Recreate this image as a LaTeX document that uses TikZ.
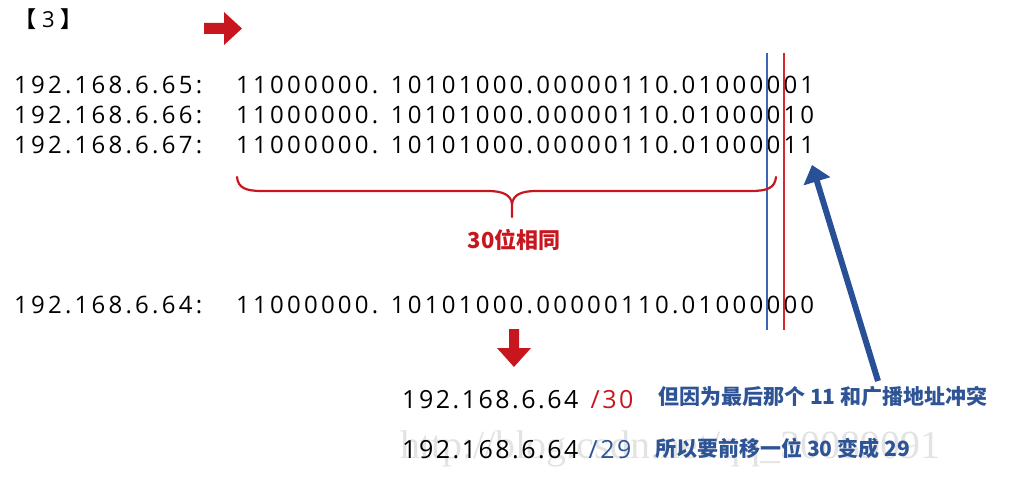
\documentclass[tikz,border=0pt]{standalone}
\usepackage{fontspec}
\setmainfont{Open Sans}
\newfontfamily\cjk{Noto Sans CJK SC}
\newfontfamily\wmfont{Liberation Serif}
\usepackage{xcolor}
\usetikzlibrary{arrows.meta, positioning}
\definecolor{ipred}{RGB}{200,22,30}
\definecolor{linered}{RGB}{215,40,45}
\definecolor{ipblue}{RGB}{46,84,150}
\definecolor{lineblue}{RGB}{60,100,180}
\definecolor{arrowblue}{RGB}{40,80,150}

\begin{document}
\begin{tikzpicture}[
  x = 1pt, y = -1pt,
  iptext/.style  = {anchor=base west, inner sep=0pt,
                    font=\fontsize{24}{28}\selectfont\addfontfeature{LetterSpace=13.5}},
  ipbig/.style   = {anchor=base west, inner sep=0pt,
                    font=\fontsize{25}{29}\selectfont\addfontfeature{LetterSpace=10}},
  note/.style    = {anchor=base west, inner sep=0pt, text=ipblue,
                    font=\fontsize{21}{25}\cjk\bfseries},
  blockarrow/.style = {fill=ipred},
  bracered/.style   = {draw=ipred, line width=2.2pt, line cap=round},
  cutline/.style    = {line width=2pt},
  bluearrow/.style  = {-{Triangle[length=17pt, width=27pt]}, line width=6pt,
                       arrowblue},
]
  \useasboundingbox (0,0) rectangle (1024,476);
  \node[anchor=base west, inner sep=0pt, font=\fontsize{22}{26}\selectfont]
    (title) at (14,28) {{\cjk\bfseries 【}\hspace{6pt}3\hspace{6pt}{\cjk\bfseries 】}};
  \fill[blockarrow] (204,23) -- (224,23) -- (224,12) -- (242,28.5) -- (224,45)
    -- (224,34) -- (204,34) -- cycle;

  \node[iptext] (ip65) at (14,94)  {192.168.6.65:};
  \node[iptext] (ip66) at (14,123) {192.168.6.66:};
  \node[iptext] (ip67) at (14,153) {192.168.6.67:};
  \node[iptext] (bin65) at (236,94)  {11000000. 10101000.00000110.01000001};
  \node[iptext] (bin66) at (236,123) {11000000. 10101000.00000110.01000010};
  \node[iptext] (bin67) at (236,153) {11000000. 10101000.00000110.01000011};
  \node[iptext] (ip64)  at (14,313)  {192.168.6.64:};
  \node[iptext] (bin64) at (236,313) {11000000. 10101000.00000110.01000000};

  \coordinate (blueTop) at (767,53);
  \coordinate (blueBot) at (767,330);
  \coordinate (redTop)  at (784,53);
  \coordinate (redBot)  at (784,330);
  \draw[cutline, lineblue] (blueTop) -- (blueBot);
  \draw[cutline, linered]  (redTop) -- (redBot);

  \draw[bracered] (237,177) .. controls (238,188) and (246,191) .. (262,191)
    -- (488,191) .. controls (503,191) and (511,195) .. (512,204) -- (512,217);
  \draw[bracered] (776,177) .. controls (775,188) and (767,191) .. (751,191)
    -- (536,191) .. controls (521,191) and (513,195) .. (512,204);
  \node[anchor=base, inner sep=0pt, text=ipred, font=\fontsize{22}{26}\cjk\bfseries]
    (same) at (514,248) {30位相同};

  \fill[blockarrow] (509,329) -- (519,329) -- (519,348) -- (531,348) -- (514,367)
    -- (497,348) -- (509,348) -- cycle;

  \node[anchor=base west, inner sep=0pt, text=black!11,
        font=\fontsize{40}{44}\wmfont] (mark) at (400,458)
    {http://blog.csdn.net/qq\_30089091};

  \node[ipbig] (net30) at (402,408) {192.168.6.64};
  \node[ipbig, text=ipred, base right=12pt of net30] (mask30) {/30};
  \node[ipbig] (net29) at (402,458) {192.168.6.64};
  \node[ipbig, text=ipblue, base right=10pt of net29] (mask29) {/29};
  \node[note] (why) at (658,404) {但因为最后那个 11 和广播地址冲突};
  \node[note] (fix) at (655,456) {所以要前移一位 30 变成 29};

  \coordinate (arrowTail) at (878,381);
  \coordinate (arrowTip)  at (812,165);
  \draw[bluearrow] (arrowTail) -- (arrowTip);
\end{tikzpicture}
\end{document}
